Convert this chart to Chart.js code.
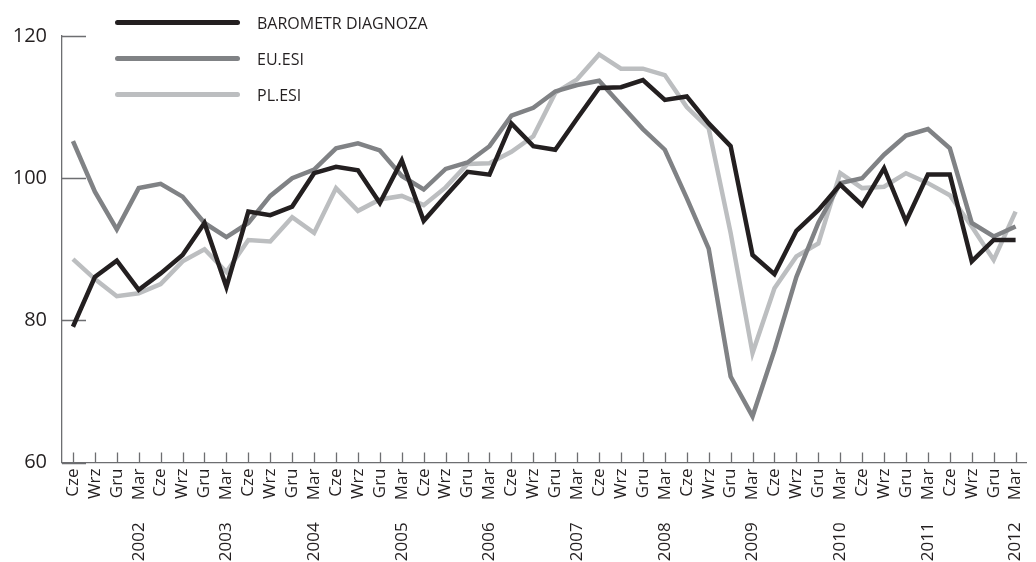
<!DOCTYPE html>
<html>
<head>
<meta charset="utf-8">
<script src="https://cdn.jsdelivr.net/npm/chart.js@4.4.0/dist/chart.umd.min.js"></script>
<style>
  html, body { margin: 0; padding: 0; background: #fff; }
  #wrap { position: relative; width: 1036px; height: 562px; overflow: hidden; }
  #myChart { position: absolute; left: 0; top: 0; }
  #legend { position: absolute; left: 115px; top: 0; font-family: 'Open Sans', sans-serif; font-size: 16px; color: #231f20; }
  .item { position: absolute; left: 0; height: 20px; display: flex; align-items: center; white-space: nowrap; }
  .swatch { width: 125px; height: 5px; border-radius: 3px; margin-right: 17px; }
</style>
</head>
<body>
<div id="wrap">
  <canvas id="myChart" width="1042" height="562"></canvas>
  <div id="legend"></div>
</div>
<script>
// quarterly labels, June 2001 - March 2012
const quarters = [
  'Cze', 'Wrz', 'Gru',
  '2002 Mar', 'Cze', 'Wrz', 'Gru',
  '2003 Mar', 'Cze', 'Wrz', 'Gru',
  '2004 Mar', 'Cze', 'Wrz', 'Gru',
  '2005 Mar', 'Cze', 'Wrz', 'Gru',
  '2006 Mar', 'Cze', 'Wrz', 'Gru',
  '2007 Mar', 'Cze', 'Wrz', 'Gru',
  '2008 Mar', 'Cze', 'Wrz', 'Gru',
  '2009 Mar', 'Cze', 'Wrz', 'Gru',
  '2010 Mar', 'Cze', 'Wrz', 'Gru',
  '2011 Mar', 'Cze', 'Wrz', 'Gru',
  '2012 Mar'
];

const seriesNames = ['BAROMETR DIAGNOZA', 'EU.ESI', 'PL.ESI'];

const barometr = [79.1, 86.1, 88.4, 84.3, 86.6, 89.2, 93.7, 84.7, 95.3, 94.8, 96.0, 100.7,
  101.6, 101.1, 96.5, 102.5, 94.0, 97.5, 100.9, 100.5, 107.7, 104.5, 104.0, 108.4,
  112.7, 112.8, 113.8, 111.0, 111.5, 107.7, 104.5, 89.2, 86.5, 92.6, 95.5, 99.1,
  96.2, 101.4, 93.9, 100.5, 100.5, 88.3, 91.3, 91.3];

const euEsi = [105.2, 98.1, 92.8, 98.6, 99.2, 97.4, 93.7, 91.7, 93.7, 97.5, 100.0, 101.2,
  104.2, 104.9, 103.9, 100.3, 98.4, 101.3, 102.2, 104.5, 108.8, 109.9, 112.2, 113.1,
  113.7, 110.3, 106.9, 104.0, 97.2, 90.1, 72.1, 66.5, 75.8, 86.1, 93.7, 99.3,
  100.0, 103.3, 106.0, 106.9, 104.2, 93.7, 91.8, 93.2];

const plEsi = [88.6, 85.8, 83.4, 83.8, 85.1, 88.3, 90.0, 86.8, 91.3, 91.1, 94.5, 92.3,
  98.6, 95.4, 97.0, 97.5, 96.2, 98.7, 102.0, 102.1, 103.7, 105.9, 112.0, 113.9,
  117.4, 115.4, 115.4, 114.5, 110.0, 107.0, 92.3, 75.4, 84.5, 89.0, 90.8, 100.7,
  98.6, 98.8, 100.7, 99.3, 97.6, 93.2, 88.5, 95.3];

const yTicks = [60, 80, 100, 120];

const colors = ['#231f20', '#808285', '#bcbec0'];
const axisColor = '#6d6e71';

Chart.defaults.font.family = "'Open Sans', sans-serif";
Chart.defaults.color = '#231f20';

// short tick marks pointing into the plot
const inwardTicks = {
  id: 'inwardTicks',
  beforeDatasetsDraw(chart) {
    const { ctx, scales: { x, y } } = chart;
    ctx.save();
    ctx.strokeStyle = axisColor;
    ctx.lineWidth = 1.3;
    ctx.beginPath();
    yTicks.forEach(v => {
      const py = Math.round(y.getPixelForValue(v)) + 0.5;
      ctx.moveTo(x.left, py);
      ctx.lineTo(x.left + 24, py);
    });
    quarters.forEach((q, i) => {
      const px = Math.round(x.getPixelForValue(i)) + 0.5;
      ctx.moveTo(px, y.bottom);
      ctx.lineTo(px, y.bottom - 10);
    });
    ctx.stroke();
    ctx.restore();
  }
};

const chart = new Chart(document.getElementById('myChart'), {
  type: 'line',
  data: {
    labels: quarters,
    datasets: [barometr, euEsi, plEsi].map((d, i) => ({
      label: seriesNames[i],
      data: d,
      borderColor: colors[i],
      backgroundColor: colors[i],
      borderWidth: 4.5,
      pointRadius: 0,
      tension: 0,
      order: i
    }))
  },
  options: {
    responsive: false,
    animation: false,
    layout: { padding: { top: 36, left: 0, right: 0, bottom: 0 } },
    plugins: {
      legend: { display: false },
      tooltip: { enabled: false }
    },
    scales: {
      x: {
        type: 'category',
        offset: true,
        grid: { display: false, drawTicks: false },
        border: { display: true, color: axisColor, width: 1.3 },
        ticks: {
          autoSkip: false,
          maxRotation: 90,
          minRotation: 90,
          padding: 6,
          font: { size: 17 },
          color: '#231f20',
          callback: function (value) {
            const parts = quarters[value].split(' ');
            return parts.length > 1 ? parts[0] + '     ' + parts[1] : parts[0];
          }
        },
        afterFit: s => { s.height = 99.5; }
      },
      y: {
        min: 60,
        max: 120,
        grid: { display: false, drawTicks: false },
        border: { display: true, color: axisColor, width: 1.3 },
        ticks: {
          stepSize: 20,
          padding: 15,
          font: { size: 20 },
          color: '#231f20'
        },
        afterFit: s => { s.width = 62; }
      }
    }
  },
  plugins: [inwardTicks]
});

// legend drawn over the plot, top left
const legend = document.getElementById('legend');
chart.data.datasets.forEach((ds, i) => {
  const item = document.createElement('div');
  item.className = 'item';
  item.style.top = (12.5 + i * 36) + 'px';
  const sw = document.createElement('span');
  sw.className = 'swatch';
  sw.style.background = ds.borderColor;
  const txt = document.createElement('span');
  txt.textContent = ds.label;
  item.appendChild(sw);
  item.appendChild(txt);
  legend.appendChild(item);
});
</script>
</body>
</html>
